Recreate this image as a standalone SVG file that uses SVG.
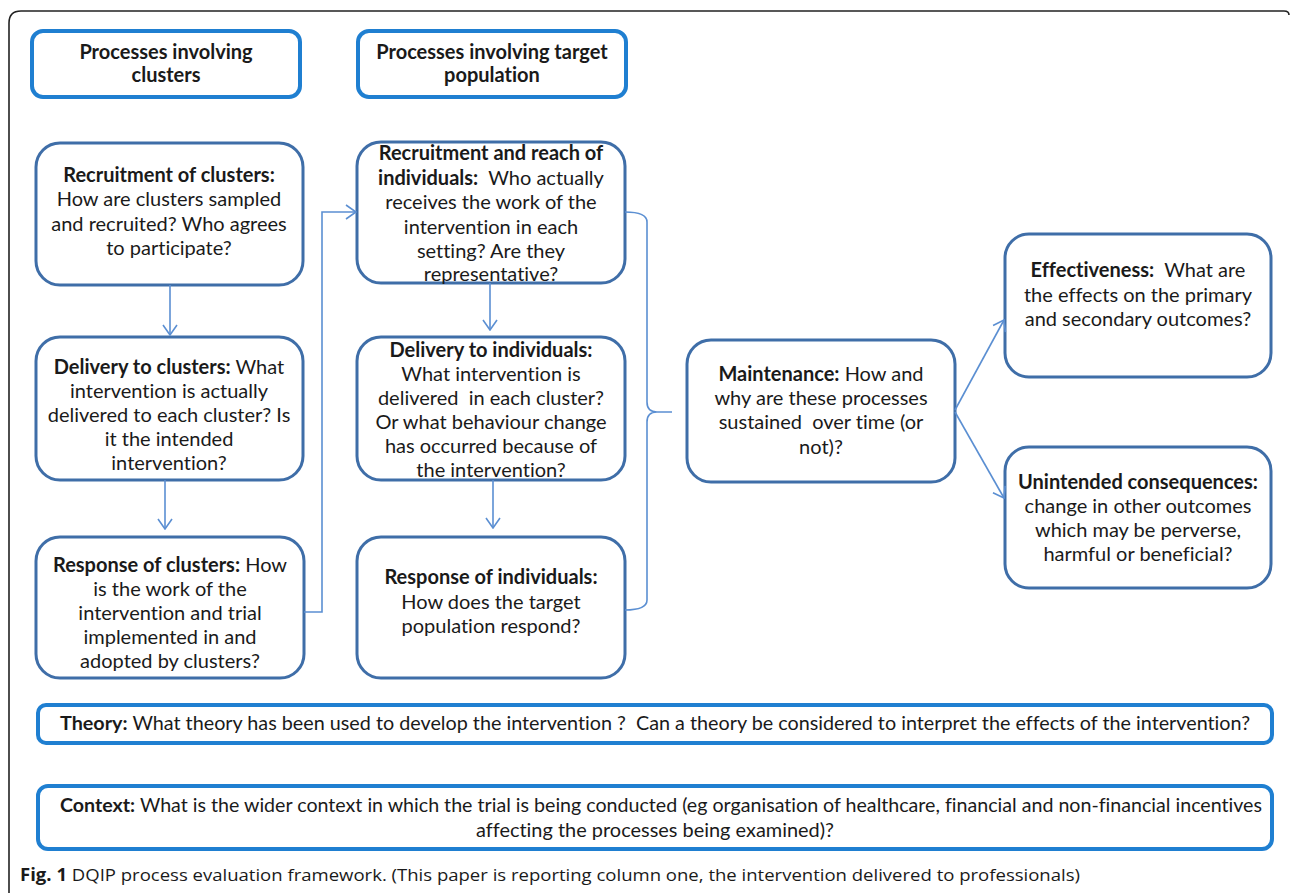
<svg xmlns="http://www.w3.org/2000/svg" width="1290" height="896" viewBox="0 0 1290 896">
<defs>
<style>
.node{fill:#fff;stroke:#3f6ea8;stroke-width:3}
.hdr{fill:#fff;stroke:#1f7fd1;stroke-width:4}
.t{font-family:Lato,"Open Sans","Liberation Sans",sans-serif;font-size:20px;fill:#1a1a1a;text-anchor:middle;white-space:pre;font-variant-ligatures:none}
.s{font-size:19px}
.b{font-weight:bold}
.con{fill:none;stroke:#5b8fd2;stroke-width:1.6}
.cap{font-family:"Open Sans","Liberation Sans",sans-serif;font-size:17px;fill:#1a1a1a;white-space:pre}
</style>
<marker id="arr" viewBox="0 0 12 16" refX="11" refY="8" markerWidth="12" markerHeight="16" markerUnits="userSpaceOnUse" orient="auto">
<path d="M1,1 L11,8 L1,15" fill="none" stroke="#5b8fd2" stroke-width="1.6"/>
</marker>
</defs>
<rect width="1290" height="896" fill="#fff"/>
<path d="M9,893 L9,23 Q9,11 21,11 L1284,11 Q1289,11 1289,15" fill="none" stroke="#222" stroke-width="1.6"/>

<g id="hdr-clusters">
<rect class="hdr" x="32" y="31" width="268" height="66" rx="11"/>
<text class="t b" x="166" y="59">Processes involving</text>
<text class="t b" x="166" y="82">clusters</text>
</g>
<g id="hdr-target">
<rect class="hdr" x="358" y="31" width="268" height="66" rx="11"/>
<text class="t b" x="492" y="59">Processes involving target</text>
<text class="t b" x="492" y="82">population</text>
</g>

<g id="recruit-clusters">
<rect class="node" x="36" y="143" width="267" height="142" rx="24"/>
<text class="t b" x="169" y="182">Recruitment of clusters:</text>
<text class="t" x="169" y="206">How are clusters sampled</text>
<text class="t" x="169" y="231">and recruited? Who agrees</text>
<text class="t" x="169" y="255">to participate?</text>
</g>
<g id="delivery-clusters">
<rect class="node" x="36" y="337" width="267" height="143" rx="24"/>
<text class="t" x="169" y="374"><tspan class="b">Delivery to clusters:</tspan> What</text>
<text class="t" x="169" y="398">intervention is actually</text>
<text class="t" x="169" y="422">delivered to each cluster? Is</text>
<text class="t" x="169" y="446">it the intended</text>
<text class="t" x="169" y="470">intervention?</text>
</g>
<g id="response-clusters">
<rect class="node" x="36" y="537" width="268" height="141" rx="24"/>
<text class="t" x="170" y="572"><tspan class="b">Response of clusters:</tspan> How</text>
<text class="t" x="170" y="596">is the work of the</text>
<text class="t" x="170" y="620">intervention and trial</text>
<text class="t" x="170" y="644">implemented in and</text>
<text class="t" x="170" y="668">adopted by clusters?</text>
</g>

<g id="recruit-individuals">
<rect class="node" x="357" y="142" width="268" height="141" rx="24"/>
<text class="t b" x="491" y="160">Recruitment and reach of</text>
<text class="t" x="491" y="185"><tspan class="b">individuals:</tspan>  Who actually</text>
<text class="t" x="491" y="209">receives the work of the</text>
<text class="t" x="491" y="234">intervention in each</text>
<text class="t" x="491" y="258">setting? Are they</text>
<text class="t" x="491" y="281">representative?</text>
</g>
<g id="delivery-individuals">
<rect class="node" x="357" y="337" width="268" height="143" rx="24"/>
<text class="t b" x="491" y="357">Delivery to individuals:</text>
<text class="t" x="491" y="381">What intervention is</text>
<text class="t" x="491" y="405">delivered  in each cluster?</text>
<text class="t" x="491" y="429">Or what behaviour change</text>
<text class="t" x="491" y="453">has occurred because of</text>
<text class="t" x="491" y="477">the intervention?</text>
</g>
<g id="response-individuals">
<rect class="node" x="357" y="537" width="268" height="141" rx="24"/>
<text class="t b" x="491" y="584">Response of individuals:</text>
<text class="t" x="491" y="609">How does the target</text>
<text class="t" x="491" y="633">population respond?</text>
</g>

<g id="maintenance">
<rect class="node" x="687" y="340" width="268" height="142" rx="24"/>
<text class="t" x="821" y="381"><tspan class="b">Maintenance:</tspan> How and</text>
<text class="t" x="821" y="405">why are these processes</text>
<text class="t" x="821" y="429">sustained  over time (or</text>
<text class="t" x="821" y="454">not)?</text>
</g>
<g id="effectiveness">
<rect class="node" x="1005" y="234" width="266" height="143" rx="24"/>
<text class="t" x="1138" y="277"><tspan class="b">Effectiveness:</tspan>  What are</text>
<text class="t" x="1138" y="302">the effects on the primary</text>
<text class="t" x="1138" y="326">and secondary outcomes?</text>
</g>
<g id="unintended">
<rect class="node" x="1005" y="447" width="266" height="141" rx="24"/>
<text class="t b" x="1138" y="489">Unintended consequences:</text>
<text class="t" x="1138" y="513">change in other outcomes</text>
<text class="t" x="1138" y="537">which may be perverse,</text>
<text class="t" x="1138" y="561">harmful or beneficial?</text>
</g>

<g id="theory">
<rect class="hdr" x="38" y="705" width="1234" height="38" rx="8"/>
<text class="t s" x="655" y="730" textLength="1190" lengthAdjust="spacingAndGlyphs"><tspan class="b">Theory:</tspan> What theory has been used to develop the intervention ?  Can a theory be considered to interpret the effects of the intervention?</text>
</g>
<g id="context">
<rect class="hdr" x="38" y="786" width="1234" height="63" rx="10"/>
<text class="t s" x="661" y="812" textLength="1202" lengthAdjust="spacingAndGlyphs"><tspan class="b">Context:</tspan> What is the wider context in which the trial is being conducted (eg organisation of healthcare, financial and non-financial incentives</text>
<text class="t s" x="655" y="837" textLength="358" lengthAdjust="spacingAndGlyphs">affecting the processes being examined)?</text>
</g>

<g id="connectors">
<line class="con" x1="170" y1="285" x2="170" y2="335" marker-end="url(#arr)"/>
<line class="con" x1="165" y1="480" x2="165" y2="529" marker-end="url(#arr)"/>
<polyline class="con" points="304,612 322,612 322,212 356,212" marker-end="url(#arr)"/>
<line class="con" x1="490" y1="283" x2="490" y2="330" marker-end="url(#arr)"/>
<line class="con" x1="493" y1="480" x2="493" y2="528" marker-end="url(#arr)"/>
<path class="con" d="M625,212 Q647,212 647,222 L647,402 Q647,412 657,412 L672,412 M657,412 Q647,412 647,422 L647,600 Q647,610 625,610"/>
<line class="con" x1="955" y1="410" x2="1004" y2="320" marker-end="url(#arr)"/>
<line class="con" x1="955" y1="412" x2="1004" y2="498" marker-end="url(#arr)"/>
</g>

<text class="cap" x="20" y="881" textLength="1060" lengthAdjust="spacingAndGlyphs"><tspan class="b">Fig. 1</tspan> DQIP process evaluation framework. (This paper is reporting column one, the intervention delivered to professionals)</text>
</svg>
